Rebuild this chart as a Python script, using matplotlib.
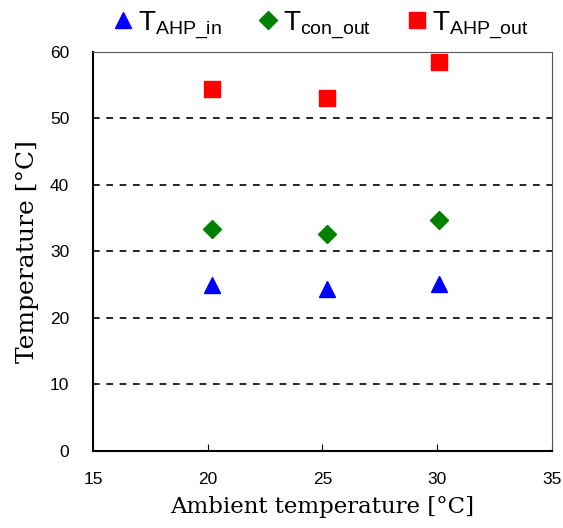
import matplotlib.pyplot as plt

# ambient temperature [°C] and measured temperatures [°C]
ambient = [20.2, 25.2, 30.1]
t_ahp_in = [25.0, 24.4, 25.1]
t_con_out = [33.4, 32.6, 34.7]
t_ahp_out = [54.4, 53.1, 58.5]

x_ticks = [15, 20, 25, 30, 35]
y_ticks = [0, 10, 20, 30, 40, 50, 60]

plt.rcParams['mathtext.default'] = 'regular'

fig = plt.figure(figsize=(5.63, 5.28), dpi=100)
ax = fig.add_axes([0.165, 0.146, 0.815, 0.756])

ax.plot(ambient, t_ahp_in, linestyle='none', marker='^', markersize=12,
        color='#0000ff', label=r'T$_{AHP\_in}$')
ax.plot(ambient, t_con_out, linestyle='none', marker='D', markersize=9.5,
        color='#008000', label=r'T$_{con\_out}$')
ax.plot(ambient, t_ahp_out, linestyle='none', marker='s', markersize=12,
        color='#ff0000', label=r'T$_{AHP\_out}$')

ax.set_xlim(15, 35)
ax.set_ylim(0, 60)
ax.set_xticks(x_ticks)
ax.set_yticks(y_ticks)
ax.tick_params(axis='x', direction='in', length=5, pad=15, labelsize=12.5)
ax.tick_params(axis='y', length=0, pad=17, labelsize=12.5)
for lbl in ax.get_xticklabels() + ax.get_yticklabels():
    lbl.set_family('Liberation Sans')

for y in y_ticks[1:-1]:
    ax.axhline(y, color='black', linestyle=(0, (4, 4)), linewidth=1.2, zorder=0)

for side in ['left', 'bottom']:
    ax.spines[side].set_linewidth(1.5)
for side in ['top', 'right']:
    ax.spines[side].set_linewidth(0.8)
    ax.spines[side].set_color('#555555')

ax.set_xlabel('Ambient temperature [\u00b0C]', family='DejaVu Serif', fontsize=16.5, labelpad=7)
ax.set_ylabel('Temperature [\u00b0C]', family='DejaVu Serif', fontsize=18, labelpad=8)

fig.legend(loc='upper center', bbox_to_anchor=(0.57, 1.03), ncol=3, frameon=False,
           prop={'family': 'Liberation Sans', 'size': 20}, handlelength=0.7,
           handletextpad=0.2, columnspacing=1.3, markerscale=1.0)

fig.savefig('out.png', dpi=100)
